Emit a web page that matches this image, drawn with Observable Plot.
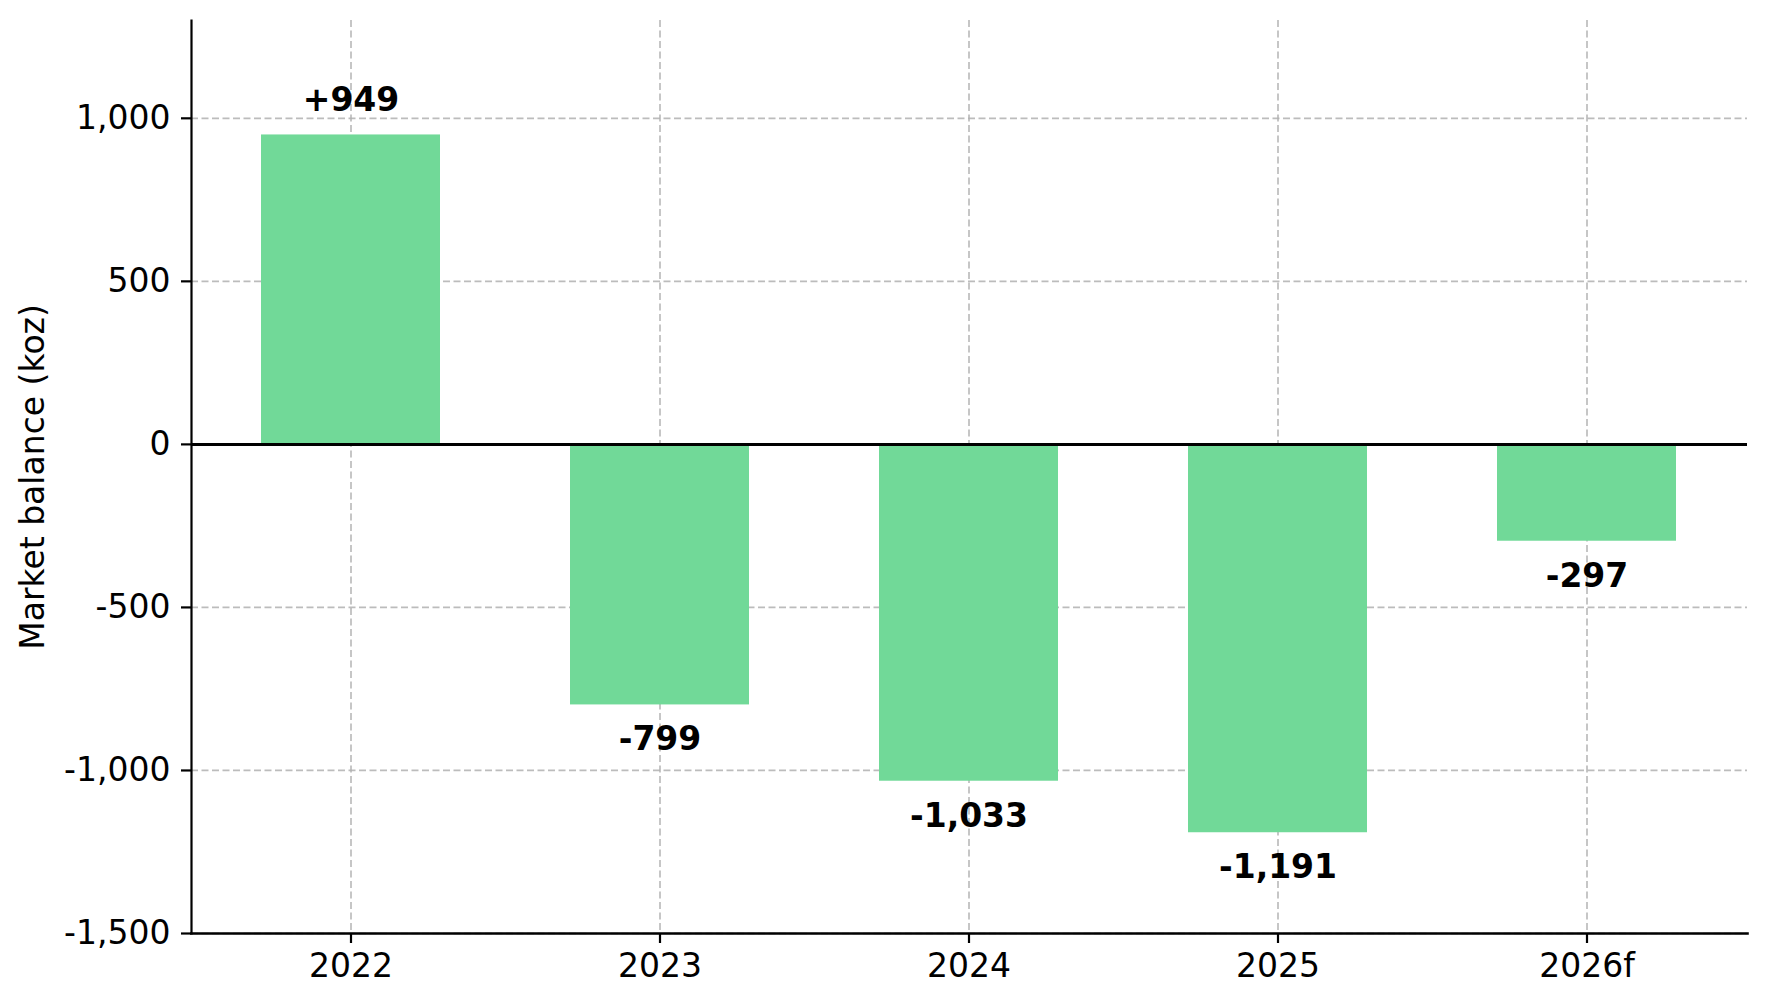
<!DOCTYPE html>
<html>
<head>
<meta charset="utf-8">
<script src="https://cdn.jsdelivr.net/npm/d3@7"></script>
<script src="https://cdn.jsdelivr.net/npm/@observablehq/plot@0.6"></script>
<style>
  html, body { margin: 0; padding: 0; background: #fff; }
  #chart svg { display: block; }
</style>
</head>
<body>
<div id="chart"></div>
<script>
const years = ["2022", "2023", "2024", "2025", "2026f"];
const balance = [949, -799, -1033, -1191, -297];
const valueLabels = ["+949", "-799", "-1,033", "-1,191", "-297"];
const yTicks = [-1500, -1000, -500, 0, 500, 1000];
const yDomain = [-1500, 1300];

const data = years.map((year, i) => ({year, value: balance[i], label: valueLabels[i]}));
const positives = data.filter(d => d.value >= 0);
const negatives = data.filter(d => d.value < 0);

const gridStyle = {stroke: "#b0b0b0", strokeOpacity: 0.85, strokeWidth: 1.7, strokeDasharray: "7,3.5"};
const fmt = d => d.toLocaleString("en-US");

const chart = Plot.plot({
  width: 1765,
  height: 1005,
  marginLeft: 191,
  marginRight: 18,
  marginTop: 20,
  marginBottom: 72,
  style: {fontFamily: "DejaVu Sans", fontSize: "33px", color: "#000", background: "#fff"},
  x: {domain: years, paddingInner: 0.42, paddingOuter: 0.225},
  y: {domain: yDomain},
  marks: [
    Plot.gridY(yTicks, gridStyle),
    Plot.gridX(years, gridStyle),
    Plot.barY(data, {x: "year", y: "value", fill: "#71d998"}),
    Plot.ruleY([0], {stroke: "#000", strokeWidth: 3}),
    Plot.frame({anchor: "left", stroke: "#000", strokeWidth: 2.2}),
    Plot.frame({anchor: "bottom", stroke: "#000", strokeWidth: 2.6}),
    Plot.axisX({tickSize: 10, tickPadding: 10, fontSize: 33, label: null, stroke: "#000", strokeWidth: 2.2}),
    Plot.axisY(yTicks, {tickSize: 10, tickPadding: 11, fontSize: 33, tickFormat: fmt, stroke: "#000", strokeWidth: 2.2,
      label: "Market balance (koz)", labelAnchor: "center", labelArrow: "none", labelOffset: 171}),
    Plot.text(positives, {x: "year", y: "value", text: "label", dy: -24, lineAnchor: "bottom",
      fontWeight: "bold", fontSize: 33, fill: "#000"}),
    Plot.text(negatives, {x: "year", y: "value", text: "label", dy: 22, lineAnchor: "top",
      fontWeight: "bold", fontSize: 33, fill: "#000"})
  ]
});
document.getElementById("chart").appendChild(chart);
</script>
</body>
</html>
